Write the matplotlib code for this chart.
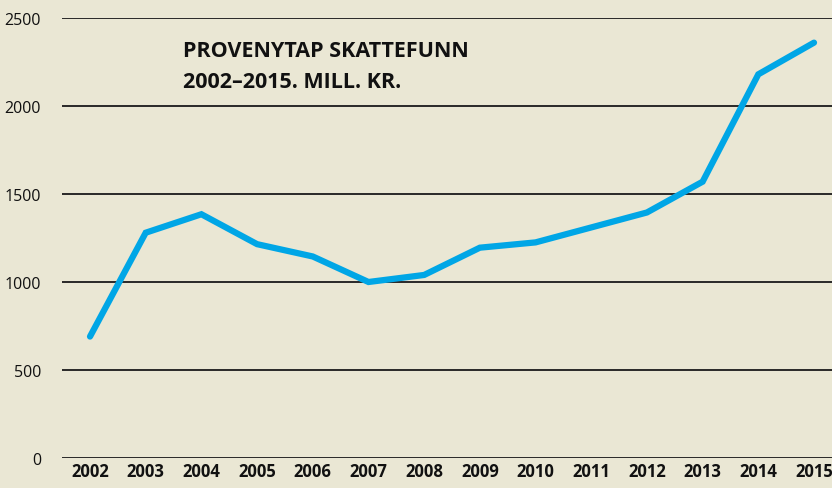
import numpy as np
import matplotlib.pyplot as plt

# Provenytap Skattefunn, mill. kr
years = [2002, 2003, 2004, 2005, 2006, 2007, 2008, 2009, 2010, 2011, 2012, 2013, 2014, 2015]
values = [690, 1280, 1385, 1215, 1145, 1000, 1040, 1195, 1225, 1310, 1395, 1570, 2180, 2360]
yticks = [0, 500, 1000, 1500, 2000, 2500]
title_lines = ["PROVENYTAP SKATTEFUNN", "2002\u20132015. MILL. KR."]

bg = "#eae7d4"
blue = "#00a6e6"

plt.rcParams['font.family'] = ['Open Sans', 'DejaVu Sans']

fig = plt.figure(figsize=(8.32, 4.89), dpi=100, facecolor=bg)
ax = fig.add_axes([62/832, 30/489, 770/832, 440/489])
ax.set_facecolor(bg)

for v in yticks:
    ax.axhline(v, color="#1a1a1a", lw=1.3, zorder=1)

ax.plot(years, values, color=blue, lw=4.5, solid_capstyle='round', solid_joinstyle='miter', zorder=3)

ax.set_xlim(2001.497, 2015.323)
ax.set_ylim(0, 2500)
ax.set_yticks(yticks)
ax.set_yticklabels([str(v) for v in yticks], fontsize=11.5, color="#111111")
ax.set_xticks(years)
ax.set_xticklabels([str(y) for y in years], fontsize=12, fontweight='bold', color="#111111")
ax.tick_params(axis='y', length=0, pad=15)
ax.tick_params(axis='x', length=0, pad=3)
for s in ax.spines.values():
    s.set_visible(False)

# title, two lines placed by baseline
fig.text(183/832, 1 - 57/489, title_lines[0], fontsize=15.5, fontweight='bold', color="#111111",
         ha='left', va='baseline')
fig.text(183/832, 1 - 88/489, title_lines[1], fontsize=15.5, fontweight='bold', color="#111111",
         ha='left', va='baseline')

fig.savefig("out.png", dpi=100, facecolor=bg)
